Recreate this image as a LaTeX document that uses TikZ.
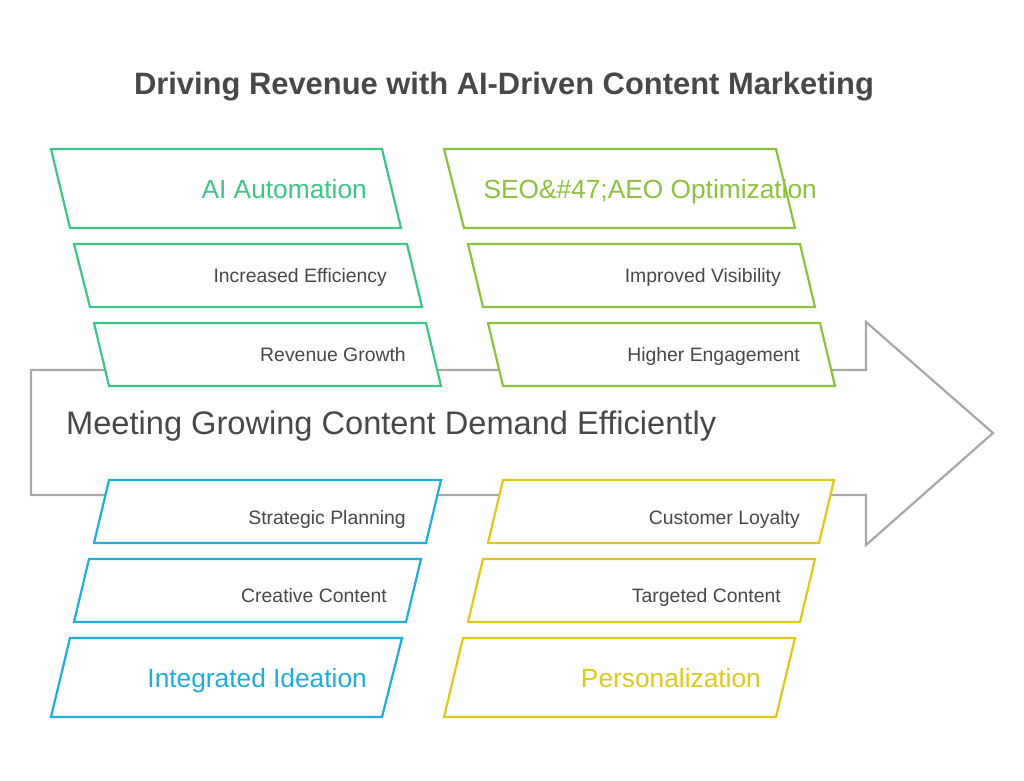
\documentclass[tikz,border=0pt]{standalone}
\usepackage{fontspec}
\setmainfont{Liberation Sans}
\usepackage{xcolor}
\definecolor{aigreen}{HTML}{3CC785}
\definecolor{seolime}{HTML}{8DC13F}
\definecolor{ideablue}{HTML}{1EAEDB}
\definecolor{persyellow}{HTML}{E0C91A}
\definecolor{shaftgray}{HTML}{A8A8A8}
\definecolor{textgray}{HTML}{484848}

\begin{document}
\begin{tikzpicture}[x=1pt,y=-1pt]
    \tikzset{box/.style = {line width=2.2pt, fill=white}}
    \tikzset{itemtext/.style = {anchor=base east, inner sep=0pt,
        text=textgray, font=\fontsize{19.4}{23}\selectfont}}
    \tikzset{headtext/.style = {anchor=base east, inner sep=0pt,
        font=\fontsize{26.3}{31}\selectfont}}
    \useasboundingbox (0,0) rectangle (1024,780);
    % title
    \node[anchor=base, inner sep=0pt, text=textgray,
        font=\bfseries\fontsize{30.9}{36}\selectfont] (title) at (504,94)
        {Driving Revenue with AI-Driven Content Marketing};

    % big arrow
    \draw[line width=2.2pt, shaftgray] (31,370) -- (866,370) -- (866,322)
        -- (993,433) -- (866,545) -- (866,495) -- (31,495) -- cycle;
    \node[anchor=base west, inner sep=0pt, text=textgray,
        font=\fontsize{32.6}{38}\selectfont] (demand) at (66,434)
        {Meeting Growing Content Demand Efficiently};

    % upper left
    \draw[box, draw=aigreen] (51,149) -- (382,149) -- (401,228) -- (70,228) -- cycle;
    \draw[box, draw=aigreen] (74,244) -- (407,244) -- (422,307) -- (90,307) -- cycle;
    \draw[box, draw=aigreen] (94,323) -- (426,323) -- (441,386) -- (109,386) -- cycle;
    \node[headtext, text=aigreen] (aiauto) at (367,198) {AI Automation};
    \node[itemtext] (effic) at (387,282) {Increased Efficiency};
    \node[itemtext] (growth) at (406,361) {Revenue Growth};

    % upper right
    \draw[box, draw=seolime] (444,149) -- (776,149) -- (795,228) -- (464,228) -- cycle;
    \draw[box, draw=seolime] (468,244) -- (800,244) -- (815,307) -- (483,307) -- cycle;
    \draw[box, draw=seolime] (488,323) -- (820,323) -- (835,386) -- (503,386) -- cycle;
    \node[headtext, text=seolime] (seoaeo) at (817,198) {SEO\&\#47;AEO Optimization};
    \node[itemtext] (visib) at (781,282) {Improved Visibility};
    \node[itemtext] (engage) at (800,361) {Higher Engagement};

    % lower left
    \draw[box, draw=ideablue] (109,480) -- (441,480) -- (426,543) -- (94,543) -- cycle;
    \draw[box, draw=ideablue] (89,559) -- (421,559) -- (406,622) -- (74,622) -- cycle;
    \draw[box, draw=ideablue] (70,638) -- (402,638) -- (382,717) -- (51,717) -- cycle;
    \node[itemtext] (plan) at (406,524) {Strategic Planning};
    \node[itemtext] (creative) at (387,602) {Creative Content};
    \node[headtext, text=ideablue] (ideation) at (367,687) {Integrated Ideation};

    % lower right
    \draw[box, draw=persyellow] (503,480) -- (834,480) -- (819,543) -- (488,543) -- cycle;
    \draw[box, draw=persyellow] (483,559) -- (815,559) -- (800,622) -- (468,622) -- cycle;
    \draw[box, draw=persyellow] (463,638) -- (795,638) -- (776,717) -- (444,717) -- cycle;
    \node[itemtext] (loyal) at (800,524) {Customer Loyalty};
    \node[itemtext] (target) at (781,602) {Targeted Content};
    \node[headtext, text=persyellow] (person) at (761,687) {Personalization};
\end{tikzpicture}
\end{document}
